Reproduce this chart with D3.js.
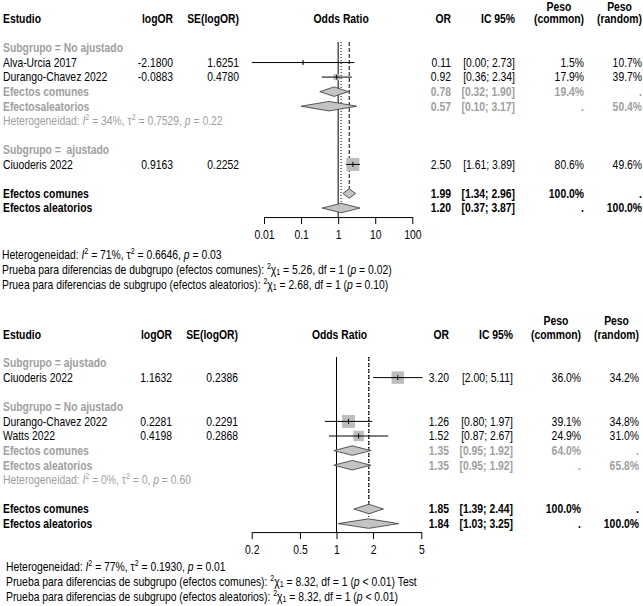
<!DOCTYPE html>
<meta charset="utf-8">
<script src="https://d3js.org/d3.v7.min.js"></script>
<style>
  body { margin: 0; background: #fff; }
  svg text { font-family: "Liberation Sans", Arial, sans-serif; font-size: 12.5px; white-space: pre; fill: #000; }
  svg text.b { font-weight: bold; }
  svg text.gray, svg text.gray tspan { fill: #a0a0a0; }
</style>
<div id="my_dataviz"></div>
<script>
// ---------- Panel 1 data ----------
var p1Groups = ["Subgrupo = No ajustado", "Subgrupo =  ajustado"];
var p1Studies = ["Alva-Urcia 2017", "Durango-Chavez 2022", "Ciuoderis 2022"];
var p1LogOR = [-2.1800, -0.0883, 0.9163];
var p1SE = [1.6251, 0.4780, 0.2252];
var p1WCommon = [1.5, 17.9, 80.6];
var p1WRandom = [10.7, 39.7, 49.6];
var p1SubLabels = ["Efectos comunes", "Efectosaleatorios"];
var p1SubOR = [0.78, 0.57];
var p1SubLo = [0.32, 0.10];
var p1SubHi = [1.90, 3.17];
var p1SubWC = ["19.4%", "."];
var p1SubWR = [".", "50.4%"];
var p1SubHet = ["34%", "0.7529", "0.22"];
var p1TotLabels = ["Efectos comunes", "Efectos aleatorios"];
var p1TotOR = [1.99, 1.20];
var p1TotLo = [1.34, 0.37];
var p1TotHi = [2.96, 3.87];
var p1TotWC = ["100.0%", "."];
var p1TotWR = [".", "100.0%"];
var p1Het = ["71%", "0.6646", "0.03"];
var p1TestLabels = ["Prueba para diferencias de dubgrupo (efectos comunes): ", "Pruea para diferencias de subgrupo (efectos aleatorios): "];
var p1TestChi = ["5.26", "2.68"];
var p1TestP = ["= 0.02", "= 0.10"];
var p1TestSuffix = ["", ""];
var p1Ticks = [0.01, 0.1, 1, 10, 100];

// ---------- Panel 2 data ----------
var p2Groups = ["Subgrupo = ajustado", "Subgrupo = No ajustado"];
var p2Studies = ["Ciuoderis 2022", "Durango-Chavez 2022", "Watts 2022"];
var p2LogOR = [1.1632, 0.2281, 0.4198];
var p2SE = [0.2386, 0.2291, 0.2868];
var p2WCommon = [36.0, 39.1, 24.9];
var p2WRandom = [34.2, 34.8, 31.0];
var p2SubLabels = ["Efectos comunes", "Efectos aleatorios"];
var p2SubOR = [1.35, 1.35];
var p2SubLo = [0.95, 0.95];
var p2SubHi = [1.92, 1.92];
var p2SubWC = ["64.0%", "."];
var p2SubWR = [".", "65.8%"];
var p2SubHet = ["0%", "0", "0.60"];
var p2TotLabels = ["Efectos comunes", "Efectos aleatorios"];
var p2TotOR = [1.85, 1.84];
var p2TotLo = [1.39, 1.03];
var p2TotHi = [2.44, 3.25];
var p2TotWC = ["100.0%", "."];
var p2TotWR = [".", "100.0%"];
var p2Het = ["77%", "0.1930", "0.01"];
var p2TestLabels = ["Prueba para diferencias de subgrupo (efectos comunes): ", "Prueba para diferencias de subgrupo (efectos aleatorios): "];
var p2TestChi = ["8.32", "8.32"];
var p2TestP = ["< 0.01", "< 0.01"];
var p2TestSuffix = [" Test", ""];
var p2Ticks = [0.2, 0.5, 1, 2, 5];

// row order of each panel
var p1Rows = [["group",0],["study",0],["study",1],["sub",0],["sub",1],["subhet"],[],["group",1],["study",2],[],["tot",0],["tot",1]];
var p2Rows = [["group",0],["study",0],[],["group",1],["study",1],["study",2],["sub",0],["sub",1],["subhet"],[],["tot",0],["tot",1]];

var svg = d3.select("#my_dataviz")
  .append("svg")
    .attr("width", 643)
    .attr("height", 606);

// narrow look: Liberation Sans squeezed horizontally
var narrow = 0.83;
var f2 = d3.format(".2f"), f1 = d3.format(".1f");
function f4(v) { return d3.format(".4f")(v).replace("\u2212", "-"); }

function addText(g, x, y, str, anchor, cls) {
  return g.append("g")
    .attr("transform", "translate(" + x + "," + y + ") scale(" + narrow + ",1)")
    .append("text")
    .attr("dominant-baseline", "central")
    .attr("text-anchor", anchor || "start")
    .attr("class", cls || null)
    .text(str);
}

// parts: [text, style] with style "i", "sup", "sub"
function addRich(g, x, y, parts, cls) {
  var t = g.append("g")
    .attr("transform", "translate(" + x + "," + y + ") scale(" + narrow + ",1)")
    .append("text")
    .attr("dominant-baseline", "central")
    .attr("class", cls || null);
  parts.forEach(function(p) {
    var ts = t.append("tspan").text(p[0]);
    if (p[1] == "i") ts.style("font-style", "italic");
    if (p[1] == "sup") ts.style("font-size", "8.5px").attr("baseline-shift", "4");
    if (p[1] == "sub") ts.style("font-size", "8.5px").attr("baseline-shift", "-3");
  });
  return t;
}

function hetParts(h) {
  return [["Heterogeneidad: "], ["I", "i"], ["2", "sup"], [" = " + h[0] + ", "], ["\u03c4"], ["2", "sup"],
          [" = " + h[1] + ", "], ["p", "i"], [" = " + h[2]]];
}

function drawPanel(P) {
  var g = svg.append("g");
  var x = d3.scaleLog().domain([P.ticks[0], P.ticks[P.ticks.length - 1]]).range(P.range);
  var rowY = function(i) { return P.row0 + i * P.step; };
  var axisY = rowY(11) + P.axisGap;
  var c = P.cols;
  var wmax = d3.max(P.wC);

  // column headers
  addText(g, 3, P.headY, "Estudio", "start", "b");
  addText(g, c.logor, P.headY, "logOR", "end", "b");
  addText(g, c.se, P.headY, "SE(logOR)", "end", "b");
  addText(g, (P.range[0] + P.range[1]) / 2 + 3, P.headY, "Odds Ratio", "middle", "b");
  addText(g, c.or, P.headY, "OR", "end", "b");
  addText(g, c.ci, P.headY, "IC 95%", "end", "b");
  [["(common)", c.wc], ["(random)", c.wr]].forEach(function(h) {
    var t = addText(g, h[1], P.headY, h[0], "end", "b");
    var w = t.node().getComputedTextLength() * narrow;
    addText(g, h[1] - w / 2, P.pesoY, "Peso", "middle", "b");
  });

  // reference lines
  var lineTop = rowY(0) - 6;
  g.append("line").attr("x1", x(1)).attr("x2", x(1)).attr("y1", lineTop).attr("y2", axisY)
    .attr("stroke", "black");
  g.append("line").attr("x1", x(P.totOR[0])).attr("x2", x(P.totOR[0]))
    .attr("y1", lineTop).attr("y2", rowY(10) - P.dh / 2)
    .attr("stroke", "black").attr("stroke-dasharray", "4,2");
  g.append("line").attr("x1", x(P.totOR[1])).attr("x2", x(P.totOR[1]))
    .attr("y1", lineTop).attr("y2", rowY(11) - P.dh / 2)
    .attr("stroke", "black").attr("stroke-dasharray", "1,2");

  function diamond(y, or, lo, hi) {
    var h = P.dh / 2;
    g.append("path")
      .attr("d", "M" + x(lo) + "," + y + "L" + x(or) + "," + (y - h) + "L" + x(hi) + "," + y +
                 "L" + x(or) + "," + (y + h) + "Z")
      .attr("fill", "#c4c4c4").attr("stroke", "#333").attr("stroke-width", 0.8);
  }

  P.rows.forEach(function(r, i) {
    var y = rowY(i);
    var k = r[1];
    if (r[0] == "group") {
      addText(g, 3, y, P.groups[k], "start", "b gray");
    } else if (r[0] == "study") {
      var est = Math.exp(P.logOR[k]);
      var lo = Math.exp(P.logOR[k] - 1.96 * P.se[k]);
      var hi = Math.exp(P.logOR[k] + 1.96 * P.se[k]);
      addText(g, 3, y, P.studies[k]);
      addText(g, c.logor, y, f4(P.logOR[k]), "end");
      addText(g, c.se, y, f4(P.se[k]), "end");
      addText(g, c.or, y, f2(est), "end");
      addText(g, c.ci, y, "[" + f2(lo) + "; " + f2(hi) + "]", "end");
      addText(g, c.wc, y, f1(P.wC[k]) + "%", "end");
      addText(g, c.wr, y, f1(P.wR[k]) + "%", "end");
      var s = P.boxMax * Math.sqrt(P.wC[k] / wmax);
      g.append("rect")
        .attr("x", x(est) - s / 2).attr("y", y - s / 2)
        .attr("width", s).attr("height", s)
        .attr("fill", "#bdbdbd");
      g.append("line").attr("x1", x(lo)).attr("x2", x(hi)).attr("y1", y).attr("y2", y)
        .attr("stroke", "black");
      g.append("line").attr("x1", x(est)).attr("x2", x(est)).attr("y1", y - 2.5).attr("y2", y + 2.5)
        .attr("stroke", "black");
    } else if (r[0] == "sub") {
      addText(g, 3, y, P.subLabels[k], "start", "b gray");
      addText(g, c.or, y, f2(P.subOR[k]), "end", "b gray");
      addText(g, c.ci, y, "[" + f2(P.subLo[k]) + "; " + f2(P.subHi[k]) + "]", "end", "b gray");
      addText(g, c.wc, y, P.subWC[k], "end", "b gray");
      addText(g, c.wr, y, P.subWR[k], "end", "b gray");
      diamond(y, P.subOR[k], P.subLo[k], P.subHi[k]);
    } else if (r[0] == "subhet") {
      addRich(g, 3, y, hetParts(P.subHet), "gray");
    } else if (r[0] == "tot") {
      addText(g, 3, y, P.totLabels[k], "start", "b");
      addText(g, c.or, y, f2(P.totOR[k]), "end", "b");
      addText(g, c.ci, y, "[" + f2(P.totLo[k]) + "; " + f2(P.totHi[k]) + "]", "end", "b");
      addText(g, c.wc, y, P.totWC[k], "end", "b");
      addText(g, c.wr, y, P.totWR[k], "end", "b");
      diamond(y, P.totOR[k], P.totLo[k], P.totHi[k]);
    }
  });

  // x axis
  var ax = g.append("g")
    .attr("transform", "translate(0," + axisY + ")")
    .call(d3.axisBottom(x).tickValues(P.ticks).tickFormat(d3.format("~g"))
      .tickSize(7).tickSizeOuter(0).tickPadding(6));
  ax.selectAll("text").style("font-size", "12.5px").attr("fill", "black")
    .attr("transform", "scale(" + narrow + ",1)");
  ax.selectAll("line, path").attr("stroke", "black");

  // footer
  addRich(g, P.footX, P.foot[0], hetParts(P.het));
  [0, 1].forEach(function(j) {
    addRich(g, P.footX, P.foot[j + 1], [[P.testLabels[j]], ["2", "sup"], ["\u03c7"], ["1", "sub"],
      [" = " + P.testChi[j] + ", df = 1 ("], ["p", "i"], [" " + P.testP[j] + ")" + P.testSuffix[j]]]);
  });
}

drawPanel({
  groups: p1Groups, studies: p1Studies, logOR: p1LogOR, se: p1SE, wC: p1WCommon, wR: p1WRandom,
  subLabels: p1SubLabels, subOR: p1SubOR, subLo: p1SubLo, subHi: p1SubHi, subWC: p1SubWC, subWR: p1SubWR,
  subHet: p1SubHet, totLabels: p1TotLabels, totOR: p1TotOR, totLo: p1TotLo, totHi: p1TotHi,
  totWC: p1TotWC, totWR: p1TotWR, het: p1Het, testLabels: p1TestLabels, testChi: p1TestChi,
  testP: p1TestP, testSuffix: p1TestSuffix, ticks: p1Ticks, rows: p1Rows,
  headY: 18.5, pesoY: 6.5, row0: 48, step: 14.55, axisGap: 9, range: [264, 412.3],
  foot: [255, 270, 285], footX: 2, boxMax: 13, dh: 9.5,
  cols: {logor: 173, se: 239, or: 451, ci: 515, wc: 584, wr: 642}
});

drawPanel({
  groups: p2Groups, studies: p2Studies, logOR: p2LogOR, se: p2SE, wC: p2WCommon, wR: p2WRandom,
  subLabels: p2SubLabels, subOR: p2SubOR, subLo: p2SubLo, subHi: p2SubHi, subWC: p2SubWC, subWR: p2SubWR,
  subHet: p2SubHet, totLabels: p2TotLabels, totOR: p2TotOR, totLo: p2TotLo, totHi: p2TotHi,
  totWC: p2TotWC, totWR: p2TotWR, het: p2Het, testLabels: p2TestLabels, testChi: p2TestChi,
  testP: p2TestP, testSuffix: p2TestSuffix, ticks: p2Ticks, rows: p2Rows,
  headY: 334.5, pesoY: 320.5, row0: 363, step: 14.6, axisGap: 8.5, range: [251.7, 421.3],
  foot: [567, 582, 597], footX: 6, boxMax: 13, dh: 9.5,
  cols: {logor: 172, se: 238, or: 449, ci: 513, wc: 581, wr: 639}
});
</script>
